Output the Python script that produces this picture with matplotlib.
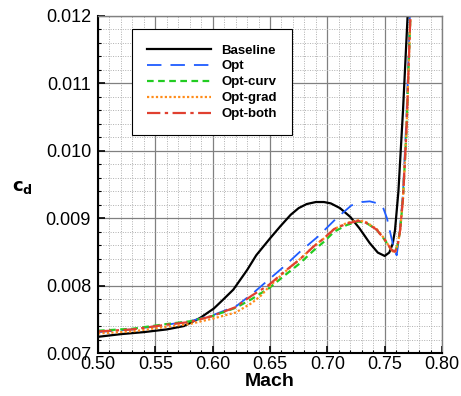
import matplotlib
matplotlib.use("Agg")
import matplotlib.pyplot as plt
from matplotlib.ticker import MultipleLocator, FormatStrFormatter

plt.rcParams['font.family'] = ['Liberation Sans', 'DejaVu Sans']

# Baseline
base_m = [0.500, 0.520, 0.540, 0.560, 0.575, 0.589, 0.601, 0.609, 0.618, 0.630, 0.638, 0.650, 0.659,
          0.668, 0.675, 0.682, 0.690, 0.697, 0.703, 0.711, 0.720, 0.728, 0.737, 0.744, 0.750, 0.754,
          0.757, 0.759, 0.762, 0.766, 0.770, 0.773]
base_cd = [0.00724, 0.00728, 0.00731, 0.00735, 0.00740, 0.00752, 0.00766, 0.00779, 0.00794, 0.00823, 0.00845, 0.00870, 0.00888,
           0.00905, 0.00915, 0.00921, 0.00924, 0.00924, 0.00922, 0.00915, 0.00902, 0.00885, 0.00863, 0.00849, 0.00844, 0.00849,
           0.00862, 0.00882, 0.00940, 0.01060, 0.01200, 0.01300]

# Opt
opt_m = [0.500, 0.530, 0.560, 0.580, 0.600, 0.621, 0.636, 0.649, 0.662, 0.676, 0.692, 0.708, 0.721,
         0.730, 0.737, 0.744, 0.749, 0.752, 0.756, 0.759, 0.7605, 0.763, 0.766, 0.769, 0.773, 0.775]
opt_cd = [0.00731, 0.00735, 0.00742, 0.00747, 0.00756, 0.00770, 0.00790, 0.00809, 0.00828, 0.00850, 0.00873, 0.00900, 0.00919,
          0.00924, 0.00925, 0.00922, 0.00914, 0.00900, 0.00870, 0.00850, 0.00845, 0.00878, 0.00937, 0.01050, 0.01250, 0.01300]

# Opt-curv
curv_m = [0.500, 0.530, 0.560, 0.580, 0.600, 0.620, 0.634, 0.649, 0.662, 0.676, 0.688, 0.697, 0.706,
          0.717, 0.727, 0.734, 0.743, 0.750, 0.756, 0.759, 0.7615, 0.7635, 0.766, 0.769, 0.772, 0.775]
curv_cd = [0.00733, 0.00736, 0.00743, 0.00747, 0.00755, 0.00767, 0.00780, 0.00796, 0.00814, 0.00833, 0.00852, 0.00865, 0.00880,
           0.00890, 0.00895, 0.00893, 0.00883, 0.00868, 0.00853, 0.00850, 0.00862, 0.00882, 0.00930, 0.01030, 0.01180, 0.01300]

# Opt-grad
grad_m = [0.500, 0.530, 0.560, 0.580, 0.600, 0.620, 0.634, 0.642, 0.649, 0.662, 0.676, 0.688, 0.697, 0.706,
          0.717, 0.727, 0.734, 0.743, 0.750, 0.756, 0.759, 0.7615, 0.7635, 0.766, 0.769, 0.772, 0.775]
grad_cd = [0.00729, 0.00732, 0.00739, 0.00743, 0.00751, 0.00760, 0.00774, 0.00785, 0.00798, 0.00819, 0.00839, 0.00858, 0.00870, 0.00884,
           0.00893, 0.00897, 0.00894, 0.00884, 0.00869, 0.00852, 0.00849, 0.00862, 0.00882, 0.00930, 0.01030, 0.01180, 0.01300]

# Opt-both
both_m = [0.500, 0.530, 0.560, 0.580, 0.600, 0.620, 0.634, 0.649, 0.662, 0.676, 0.688, 0.697, 0.706,
          0.717, 0.727, 0.734, 0.743, 0.750, 0.756, 0.759, 0.7615, 0.7635, 0.766, 0.769, 0.772, 0.775]
both_cd = [0.00732, 0.00735, 0.00742, 0.00746, 0.00755, 0.00768, 0.00785, 0.00801, 0.00820, 0.00839, 0.00858, 0.00870, 0.00884,
           0.00892, 0.00896, 0.00893, 0.00883, 0.00868, 0.00853, 0.00850, 0.00862, 0.00882, 0.00930, 0.01030, 0.01180, 0.01300]

labels = ['Baseline', 'Opt', 'Opt-curv', 'Opt-grad', 'Opt-both']

fig = plt.figure(figsize=(4.61, 3.96), dpi=100)
ax = fig.add_axes([98/461, 43/396, 344/461, 337/396])

ax.plot(base_m, base_cd, color='black', lw=1.6, label=labels[0])
ax.plot(opt_m, opt_cd, color='#1f5cff', lw=1.3, dashes=(8, 5), label=labels[1])
ax.plot(curv_m, curv_cd, color='#22cc22', lw=1.6, dashes=(3, 2), label=labels[2])
ax.plot(grad_m, grad_cd, color='#ff8c1a', lw=1.6, dashes=(1, 1), label=labels[3])
ax.plot(both_m, both_cd, color='#e04030', lw=1.6, dashes=(6, 2, 1.5, 2), label=labels[4])

ax.set_xlim(0.50, 0.80)
ax.set_ylim(0.007, 0.012)
ax.xaxis.set_major_locator(MultipleLocator(0.05))
ax.xaxis.set_minor_locator(MultipleLocator(0.01))
ax.yaxis.set_major_locator(MultipleLocator(0.001))
ax.yaxis.set_minor_locator(MultipleLocator(0.0002))
ax.xaxis.set_major_formatter(FormatStrFormatter('%.2f'))
ax.yaxis.set_major_formatter(FormatStrFormatter('%.3f'))

ax.grid(which='major', color='#808080', lw=0.9, ls='-')
ax.grid(which='minor', color='#b0b0b0', lw=0.7, ls=(0, (1, 1.5)))
ax.set_axisbelow(True)

ax.tick_params(which='major', direction='in', length=5, width=1.2, labelsize=13, top=False, right=False)
ax.tick_params(which='minor', direction='in', length=2.5, width=0.8, top=False, right=False)
ax.tick_params(axis='x', pad=2)
ax.tick_params(axis='y', pad=5)

for s in ['left', 'bottom']:
    ax.spines[s].set_linewidth(1.5)
    ax.spines[s].set_color('black')
for s in ['top', 'right']:
    ax.spines[s].set_linewidth(1.0)
    ax.spines[s].set_color('#808080')

ax.set_xlabel('Mach', fontsize=14, fontweight='bold', labelpad=0)
ax.set_ylabel(r'$\mathbf{c_d}$', fontsize=13, rotation=0)
ax.yaxis.set_label_coords(-0.22, 0.465)

leg = ax.legend(loc='upper left', bbox_to_anchor=(0.099, 0.961), prop={'weight': 'bold', 'size': 9.5},
                frameon=True, fancybox=False, edgecolor='black', framealpha=1,
                handlelength=4.8, labelspacing=0.28, borderpad=1.15, handletextpad=0.8, borderaxespad=0)
leg.get_frame().set_linewidth(0.8)

fig.savefig('out.png', dpi=100)
